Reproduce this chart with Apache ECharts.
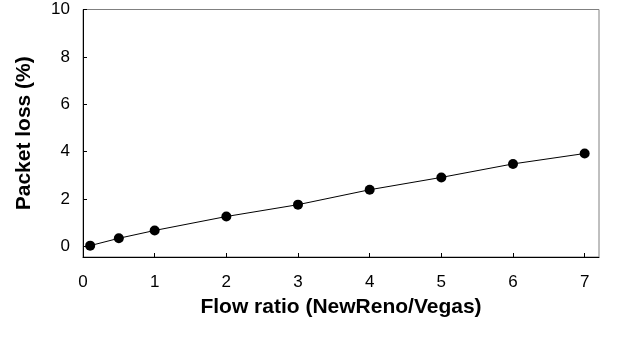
<!DOCTYPE html>
<html>
<head>
<meta charset="utf-8">
<script src="https://cdn.jsdelivr.net/npm/echarts@6/dist/echarts.min.js"></script>
<style>
  html, body { margin: 0; padding: 0; background: #fff; }
  #chart { width: 617px; height: 338px; }
</style>
</head>
<body>
<div id="chart"></div>
<script>
// Flow ratio on the x axis, packet loss (%) on the y axis
const flowRatio = [0.1, 0.5, 1, 2, 3, 4, 5, 6, 7];
const packetLoss = [0.03, 0.34, 0.67, 1.26, 1.76, 2.39, 2.91, 3.48, 3.92];
const xTicks = [0, 1, 2, 3, 4, 5, 6, 7];
const yTicks = [0, 2, 4, 6, 8, 10];

const font = 'Liberation Sans, Arial, sans-serif';

const chart = echarts.init(document.getElementById('chart'));
chart.setOption({
  animation: false,
  grid: { left: 83, right: 18, top: 9.5, bottom: 81, show: true, borderColor: '#808080', borderWidth: 1 },
  xAxis: {
    type: 'value',
    min: 0,
    max: 7.2,
    name: 'Flow ratio (NewReno/Vegas)',
    nameLocation: 'middle',
    nameGap: 40,
    nameTextStyle: { fontFamily: font, fontSize: 21, fontWeight: 'bold', color: '#000' },
    axisLine: { show: true, onZero: false, lineStyle: { color: '#000', width: 1 } },
    axisTick: { show: true, inside: true, length: 4, customValues: xTicks, lineStyle: { color: '#000' } },
    axisLabel: { customValues: xTicks, fontFamily: font, fontSize: 17, color: '#000', margin: 17 },
    splitLine: { show: false }
  },
  yAxis: {
    type: 'value',
    min: -0.45,
    max: 10,
    name: 'Packet loss (%)',
    nameLocation: 'middle',
    nameGap: 48,
    nameTextStyle: { fontFamily: font, fontSize: 21, fontWeight: 'bold', color: '#000' },
    axisLine: { show: true, onZero: false, lineStyle: { color: '#000', width: 1 } },
    axisTick: { show: true, inside: true, length: 4, customValues: yTicks, lineStyle: { color: '#000' } },
    axisLabel: { customValues: yTicks, fontFamily: font, fontSize: 17, color: '#000', margin: 13 },
    splitLine: { show: false }
  },
  series: [{
    type: 'line',
    data: flowRatio.map((x, i) => [x, packetLoss[i]]),
    symbol: 'circle',
    symbolSize: 10,
    itemStyle: { color: '#000' },
    lineStyle: { color: '#000', width: 1 }
  }]
});
</script>
</body>
</html>
